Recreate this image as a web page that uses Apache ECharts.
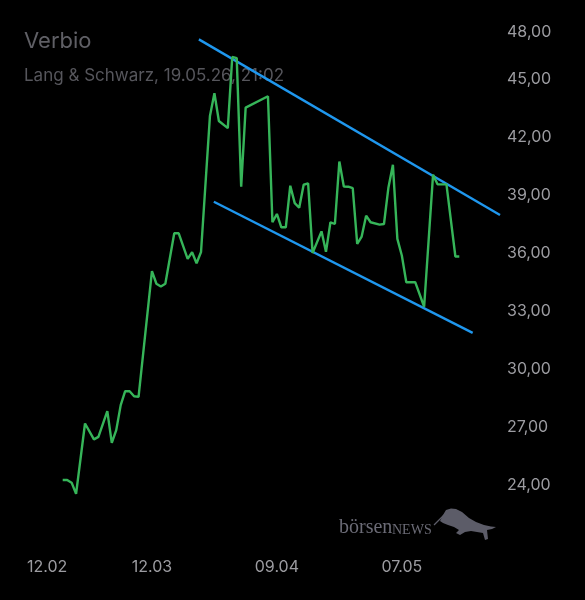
<!DOCTYPE html>
<html>
<head>
<meta charset="utf-8">
<script src="https://cdn.jsdelivr.net/npm/echarts@6/dist/echarts.min.js"></script>
<style>
  html, body { margin: 0; padding: 0; background: #000; }
  #chart { width: 585px; height: 600px; }
</style>
</head>
<body>
<div id="chart"></div>
<script>
// ---- Data ----
const title = 'Verbio';
const subtitle = 'Lang & Schwarz, 19.05.26, 21:02';

const dates = [
  '2026-02-20','2026-02-21','2026-02-22','2026-02-23','2026-02-25','2026-02-27','2026-02-28',
  '2026-03-02','2026-03-03','2026-03-04','2026-03-05','2026-03-06','2026-03-07','2026-03-08','2026-03-09',
  '2026-03-12','2026-03-13','2026-03-14','2026-03-15','2026-03-17','2026-03-18','2026-03-20','2026-03-21',
  '2026-03-22','2026-03-23','2026-03-25','2026-03-26','2026-03-27','2026-03-29','2026-03-30','2026-03-31',
  '2026-04-01','2026-04-02','2026-04-07','2026-04-08','2026-04-09','2026-04-10','2026-04-11','2026-04-12',
  '2026-04-13','2026-04-14','2026-04-15','2026-04-16','2026-04-17','2026-04-19','2026-04-20','2026-04-21',
  '2026-04-22','2026-04-23','2026-04-24','2026-04-25','2026-04-26','2026-04-27','2026-04-28','2026-04-29',
  '2026-04-30','2026-05-02','2026-05-03','2026-05-04','2026-05-05','2026-05-06','2026-05-07','2026-05-08',
  '2026-05-10','2026-05-12','2026-05-14','2026-05-15','2026-05-17','2026-05-19','2026-05-19 21:02'
];
const prices = [
  24.26, 24.26, 24.12, 23.54, 27.18, 26.36, 26.49,
  27.82, 26.18, 26.84, 28.13, 28.85, 28.85, 28.59, 28.56,
  35.06, 34.41, 34.27, 34.41, 37.02, 37.02, 35.70, 36.04,
  35.47, 36.05, 43.09, 44.26, 42.83, 42.46, 46.14, 46.08,
  39.43, 43.52, 44.11, 37.59, 38.02, 37.33, 37.33, 39.48,
  38.58, 38.34, 39.53, 39.60, 36.00, 37.12, 36.06, 37.59,
  37.50, 40.73, 39.44, 39.43, 39.35, 36.47, 36.85, 37.93,
  37.59, 37.47, 37.50, 39.39, 40.56, 36.73, 35.87, 34.49,
  34.49, 33.22, 40.05, 39.55, 39.55, 35.82, 35.82
];

// Trend channel lines
const upperChannelDates = ['2026-03-22 12:30', '2026-05-29 00:00'];
const upperChannelValues = [47.05, 37.97];
const lowerChannelDates = ['2026-03-25 21:00', '2026-05-22 21:00'];
const lowerChannelValues = [38.65, 31.87];

// Axis settings
const axisStartDate = '2026-02-12';
const axisEndDate = '2026-05-29';
const xTickDays = 28;
const yMin = 21, yMax = 48, yStep = 3;

// ---- Helpers ----
const DAY = 86400000;
function toUTC(s) {
  const parts = s.split(' ');
  const [Y, M, D] = parts[0].split('-').map(Number);
  let h = 0, m = 0;
  if (parts[1]) [h, m] = parts[1].split(':').map(Number);
  return Date.UTC(Y, M - 1, D, h, m);
}
const origin = toUTC(axisStartDate);
function dayOf(s) { return (toUTC(s) - origin) / DAY; }
function pad(n) { return (n < 10 ? '0' : '') + n; }

const priceData = dates.map((d, i) => [dayOf(d), prices[i]]);
const upperData = upperChannelDates.map((d, i) => [dayOf(d), upperChannelValues[i]]);
const lowerData = lowerChannelDates.map((d, i) => [dayOf(d), lowerChannelValues[i]]);

const chart = echarts.init(document.getElementById('chart'), null, { renderer: 'canvas' });

const FONT = 'Inter, "Noto Sans", sans-serif';

chart.setOption({
  backgroundColor: '#000000',
  animation: false,
  grid: { left: 27, right: 85, top: 21, bottom: 57, containLabel: false },
  xAxis: {
    type: 'value',
    min: 0,
    max: dayOf(axisEndDate),
    interval: xTickDays,
    axisLine: { show: false },
    axisTick: { show: false },
    splitLine: { show: false },
    axisLabel: {
      color: '#9c9ca1',
      fontSize: 16,
      fontFamily: FONT,
      margin: 16,
      alignMinLabel: 'left',
      formatter: function (v) {
        if (Math.abs(v % xTickDays) > 1e-6) return '';
        const dt = new Date(origin + v * DAY);
        return pad(dt.getUTCDate()) + '.' + pad(dt.getUTCMonth() + 1);
      }
    }
  },
  yAxis: {
    type: 'value',
    position: 'right',
    min: yMin,
    max: yMax,
    interval: yStep,
    axisLine: { show: false },
    axisTick: { show: false },
    splitLine: { show: false },
    axisLabel: {
      color: '#9c9ca1',
      fontSize: 16,
      fontFamily: FONT,
      margin: 7,
      showMinLabel: false,
      verticalAlignMaxLabel: 'top',
      formatter: function (v) {
        const s = v.toFixed(2).replace('.', ',');
        return v === yMax ? '{top|' + s + '}' : s;
      },
      rich: { top: { color: '#9c9ca1', fontSize: 16, fontFamily: FONT, padding: [3, 0, 0, 0] } }
    }
  },
  graphic: [
    { type: 'text', x: 24, y: 41, silent: true,
      style: { text: title, font: '22px ' + FONT, fill: '#5f5f65', verticalAlign: 'middle' } },
    { type: 'text', x: 24, y: 76, silent: true,
      style: { text: subtitle, font: '17px ' + FONT, fill: '#56565c', verticalAlign: 'middle' } },
    { type: 'text', x: 339, y: 528, silent: true, z: -1,
      style: { text: 'börsen', font: '20px "Liberation Serif", "DejaVu Serif", serif', fill: '#6b6b76', verticalAlign: 'middle' } },
    { type: 'text', x: 392, y: 530, silent: true, z: -1,
      style: { text: 'NEWS', font: '14px "Liberation Serif", "DejaVu Serif", serif', fill: '#6b6b76', verticalAlign: 'middle' } },
    { type: 'polyline', silent: true, z: -1,
      shape: { points: [[434, 525], [444, 515]] },
      style: { stroke: '#5c5c68', lineWidth: 1.2 } },
    { type: 'polygon', silent: true, z: -1,
      shape: { points: [
        [440, 521], [443, 515], [446, 510], [451, 508.5], [456, 509], [462, 512], [469, 518],
        [476, 522], [484, 525], [491, 526.5], [496, 527], [492, 529], [487, 530], [488, 539],
        [485, 540], [483, 533], [477, 532], [471, 531], [465, 532], [460, 535], [456, 533],
        [459, 530], [454, 527], [448, 525], [443, 523]
      ] },
      style: { fill: '#5c5c68' } }
  ],
  series: [
    {
      type: 'line', data: upperData, symbol: 'none', silent: true, z: 2,
      lineStyle: { color: '#1f97ee', width: 2.4 }
    },
    {
      type: 'line', data: lowerData, symbol: 'none', silent: true, z: 2,
      lineStyle: { color: '#1f97ee', width: 2.4 }
    },
    {
      type: 'line', data: priceData, symbol: 'none', silent: true, z: 3,
      lineStyle: { color: '#36b559', width: 2.4 }
    }
  ]
});
</script>
</body>
</html>
